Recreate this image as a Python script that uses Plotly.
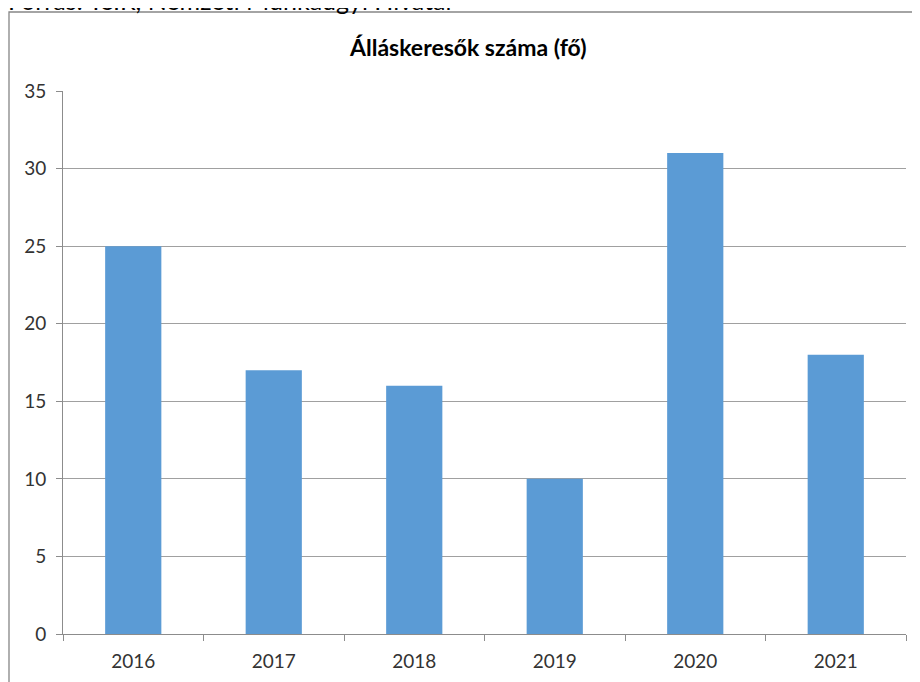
import plotly.graph_objects as go

years = ["2016", "2017", "2018", "2019", "2020", "2021"]
job_seekers = [25, 17, 16, 10, 31, 18]

title_text = "Álláskeresők száma (fő)"
source_text = "Forrás: TeIR, Nemzeti Munkaügyi Hivatal"

# page has an 8px body margin, so work in page pixels and shift
OFF = 8
W, H = 920, 682
L, R, T, B = 63 - OFF, 14 + OFF, 91 - OFF, 48 + OFF
pw, ph = W - L - R, H - T - B

def px_x(p):
    return (p - OFF - L) / pw

def px_y(p):
    return (H - B - (p - OFF)) / ph

fig = go.Figure()
fig.add_trace(go.Bar(x=years, y=job_seekers, marker=dict(color="#5B9BD5", line=dict(width=0))))

fig.update_layout(
    width=W, height=H,
    margin=dict(l=L, r=R, t=T, b=B),
    plot_bgcolor="white", paper_bgcolor="white",
    bargap=0.6,
    showlegend=False,
    font=dict(family="Lato, Open Sans, sans-serif", color="#333333", size=18),
    xaxis=dict(
        showline=True, linecolor="#8c8c8c", linewidth=1,
        ticks="outside", ticklen=6, tickcolor="#8c8c8c",
        tickson="boundaries", showgrid=False,
        ticklabelstandoff=10,
        tickfont=dict(size=19, color="#333333"),
    ),
    yaxis=dict(
        range=[0, 35], dtick=5,
        showline=True, linecolor="#8c8c8c", linewidth=1,
        ticks="outside", ticklen=6, tickcolor="#8c8c8c",
        showgrid=True, gridcolor="#a0a0a0", gridwidth=1,
        zeroline=False,
        ticklabelstandoff=6,
        tickfont=dict(size=19, color="#333333"),
    ),
    shapes=[dict(
        type="rect", xref="paper", yref="paper",
        x0=px_x(9), x1=px_x(940), y0=px_y(720), y1=px_y(12),
        line=dict(color="#868686", width=1.3), fillcolor="rgba(0,0,0,0)",
        layer="below",
    )],
    annotations=[
        dict(text=title_text, xref="paper", yref="paper",
             x=px_x(467), y=px_y(47), xanchor="center", yanchor="middle",
             showarrow=False, font=dict(size=23, color="black", family="Lato, sans-serif", weight="bold")),
        dict(text=source_text, xref="paper", yref="paper",
             x=px_x(6), y=px_y(17), xanchor="left", yanchor="bottom",
             showarrow=False, font=dict(size=25, color="black", family="Lato, sans-serif")),
    ],
)

fig.write_html("out.html")
